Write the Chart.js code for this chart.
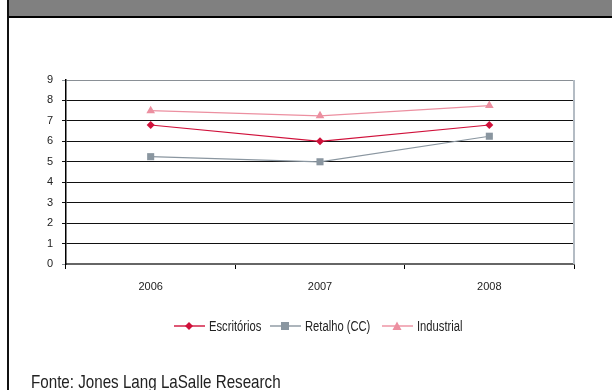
<!DOCTYPE html>
<html>
<head>
<meta charset="utf-8">
<script src="https://cdn.jsdelivr.net/npm/chart.js@4/dist/chart.umd.min.js"></script>
<style>
  html, body { margin: 0; padding: 0; background: #fff; }
  #wrap { position: relative; width: 612px; height: 390px; overflow: hidden;
          font-family: "Liberation Sans", Arial, sans-serif; }
  #header { position: absolute; left: 7px; top: 0; width: 605px; height: 16px;
            background: #808080; border-bottom: 2px solid #000; }
  #leftrule { position: absolute; left: 7px; top: 0; width: 2px; height: 390px; background: #111; }
  #chartBox { position: absolute; left: 0; top: 0; width: 612px; height: 390px; }
  #legend { position: absolute; top: 318px; left: 0; width: 612px; height: 16px; font-size: 14px; color: #222; }
  #legend svg { position: absolute; top: 3px; }
  #legend span { position: absolute; top: 0; line-height: 16px; white-space: nowrap;
                 transform: scaleX(0.8); transform-origin: 0 50%; }
  #source { position: absolute; left: 31px; top: 371px; font-size: 18.5px; color: #222; white-space: nowrap;
            transform: scaleX(0.82); transform-origin: 0 50%; }
</style>
</head>
<body>
<div id="wrap">
  <div id="chartBox"><canvas id="chart" width="612" height="390"></canvas></div>
  <div id="header"></div>
  <div id="leftrule"></div>
  <div id="legend"></div>
  <div id="source">Fonte: Jones Lang LaSalle Research</div>
</div>
<script>
// Years on the category axis
const years = ['2006', '2007', '2008'];
// Series values
const escritorios = [6.8, 6.0, 6.8];
const retalho = [5.25, 5.0, 6.25];
const industrial = [7.5, 7.25, 7.75];
// Series names
const seriesNames = ['Escritórios', 'Retalho (CC)', 'Industrial'];
// Y axis tick labels
const yTicks = [0, 1, 2, 3, 4, 5, 6, 7, 8, 9];

const colors = ['#d0103a', '#8a96a0', '#ec8fa0'];
const styles = ['rectRot', 'rect', 'triangle'];
const radii = [4, 5, 5];

const FONT = '"Liberation Sans", Arial, sans-serif';

// Thin right-hand frame line on the plot area
const frame = {
  id: 'frame',
  beforeDatasetsDraw(chart) {
    const { ctx, chartArea: a } = chart;
    ctx.save();
    ctx.strokeStyle = '#b4bcc4';
    ctx.lineWidth = 2;
    ctx.beginPath();
    ctx.moveTo(a.right, a.top);
    ctx.lineTo(a.right, a.bottom);
    ctx.stroke();
    ctx.restore();
  }
};

const seriesData = [escritorios, retalho, industrial];

new Chart(document.getElementById('chart'), {
  type: 'line',
  data: {
    labels: years,
    datasets: seriesData.map((d, i) => ({
      label: seriesNames[i],
      data: d,
      borderColor: colors[i],
      backgroundColor: colors[i],
      borderWidth: 1.2,
      pointStyle: styles[i],
      pointRadius: radii[i],
      pointHoverRadius: radii[i],
      pointBorderWidth: 0,
      tension: 0,
      fill: false
    }))
  },
  options: {
    responsive: false,
    animation: false,
    events: [],
    layout: { padding: { left: 0, right: 38, top: 80, bottom: 0 } },
    plugins: { legend: { display: false }, tooltip: { enabled: false } },
    scales: {
      x: {
        offset: true,
        grid: { offset: true, drawOnChartArea: false, drawTicks: true, tickLength: 5, color: '#000', lineWidth: 1 },
        border: { color: '#666', width: 2 },
        ticks: { padding: 11, color: '#222', font: { family: FONT, size: 11 } },
        afterFit(s) { s.height = 126; }
      },
      y: {
        min: 0, max: 9,
        afterBuildTicks(s) { s.ticks = yTicks.map(v => ({ value: v })); },
        grid: {
          color: c => (c.tick && (c.tick.value === 0 || c.tick.value === 9)) ? '#8a9096' : '#111',
          lineWidth: 1, tickLength: 4, drawTicks: true
        },
        border: { color: '#000', width: 1.5 },
        ticks: { padding: 9, color: '#222', font: { family: FONT, size: 11 } },
        afterFit(s) { s.width = 66; }
      }
    }
  },
  plugins: [frame]
});

// Legend: line segment with marker, followed by series name
const legendX = [174, 270, 382];
function legendSymbol(i) {
  const c = colors[i];
  let m;
  if (styles[i] === 'rectRot') m = `<polygon points="15,1 19,5 15,9 11,5" fill="${c}"/>`;
  else if (styles[i] === 'rect') m = `<rect x="11" y="1" width="8" height="8" fill="${c}"/>`;
  else m = `<polygon points="15,0.5 19.5,9 10.5,9" fill="${c}"/>`;
  return `<svg width="31" height="10" viewBox="0 0 31 10" style="left:${legendX[i]}px"><line x1="0" y1="5" x2="31" y2="5" stroke="${c}" stroke-width="1.4"/>${m}</svg>`;
}
const leg = document.getElementById('legend');
seriesNames.forEach((n, i) => {
  leg.insertAdjacentHTML('beforeend',
    legendSymbol(i) + `<span style="left:${legendX[i] + 35}px">${n}</span>`);
});
</script>
</body>
</html>
